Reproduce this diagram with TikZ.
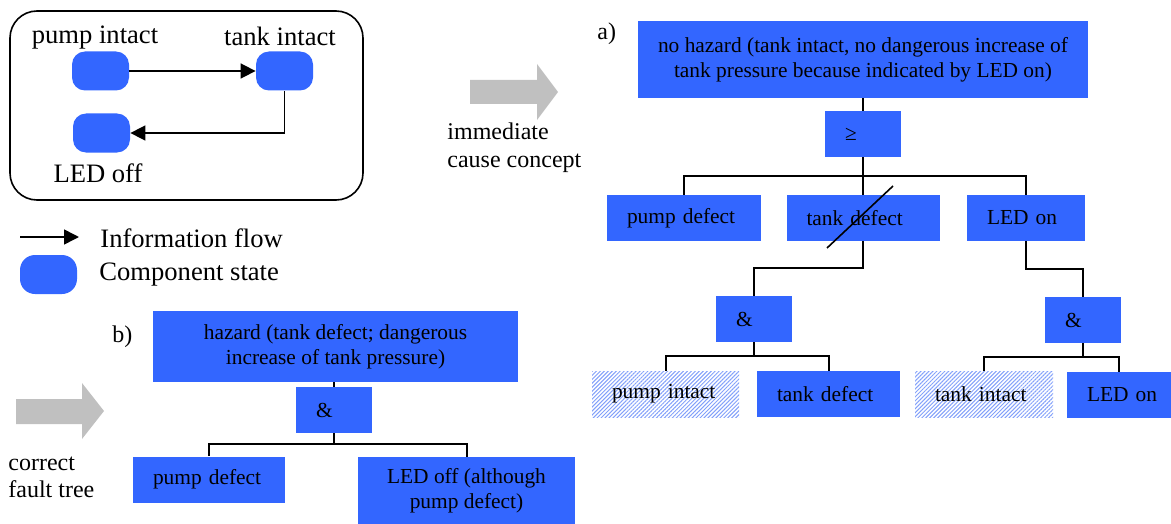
\documentclass[tikz,border=0pt]{standalone}
\usepackage{fontspec}
\setmainfont{Liberation Serif}
\usepackage{xcolor}
\usetikzlibrary{positioning}
\usetikzlibrary{arrows.meta}
\usetikzlibrary{patterns.meta}

\definecolor{ftblue}{RGB}{51,102,255}
\definecolor{hatchblue}{RGB}{130,160,250}
\definecolor{arrowgray}{RGB}{192,192,192}

\newcommand{\treefont}{\fontsize{10.7}{12.3}\selectfont}
\newcommand{\panelfont}{\fontsize{13.3}{16}\selectfont}

\begin{document}
\begin{tikzpicture}[x=0.5pt, y=-0.5pt,
  event/.style={fill=ftblue, minimum height=23pt, inner xsep=10pt, inner ysep=0pt, align=left, font=\treefont},
  bigevent/.style={fill=ftblue, inner sep=0pt, align=center, font=\treefont},
  hatched/.style={event, fill=none, pattern={Lines[angle=45,distance=1.4pt,line width=0.5pt]}, pattern color=hatchblue},
  state/.style={fill=ftblue, rounded corners=6.5pt, minimum width=28.5pt, minimum height=19.5pt, inner sep=0pt},
  flow/.style={-{Triangle[length=7.5pt,width=7.5pt]}, line width=0.8pt},
  tree/.style={line width=1pt}]

\useasboundingbox (0,0) rectangle (1171,524);

% component model
\draw[line width=0.8pt, rounded corners=13.5pt] (10,11) rectangle (363,200);

\node[state] (pump) at (100.5,71) {};
\node[state] (tank) at (284.5,71) {};
\node[state] (led) at (101.5,133) {};

\node[font=\panelfont, inner sep=0pt] (pumplabel) at (95,38) {pump intact};
\node[font=\panelfont, inner sep=0pt] (tanklabel) at (280,36) {tank intact};
\node[font=\panelfont, inner sep=0pt] (ledlabel) at (98,173) {LED off};

\draw[flow] (pump) -- (tank);
\draw[flow] (tank.south) |- (led.east);

% legend
\coordinate (legfrom) at (20,237);
\coordinate (legto) at (79,237);
\draw[flow] (legfrom) -- (legto);
\node[font=\panelfont, inner sep=0pt, anchor=west] (legflow) at (100,238) {Information flow};
\node[state, rounded corners=7.5pt] (legstate) at (48.5,274.5) {};
\node[font=\panelfont, inner sep=0pt, anchor=west] (legtext) at (99,275) {Component state};

% gray arrows
\fill[arrowgray] (470,80) --++(67,0) --++(0,-16) --++(21,28) --++(-21,28) --++(0,-16) --++(-67,0) -- cycle;
\fill[arrowgray] (16,399) --++(66,0) --++(0,-16) --++(22,28) --++(-22,28) --++(0,-15) --++(-66,0) -- cycle;

\node[font=\fontsize{12}{13.5}\selectfont, align=left, inner sep=0pt, anchor=base west] (immlabel) at (447,167) {immediate\\cause concept};
\node[font=\fontsize{12}{13.5}\selectfont, align=left, inner sep=0pt, anchor=base west] (corrlabel) at (8,497) {correct\\fault tree};

\node[font=\fontsize{12}{14}\selectfont, inner sep=0pt, anchor=base west] (alabel) at (597,40) {a)};
\node[font=\fontsize{12}{14}\selectfont, inner sep=0pt, anchor=base west] (blabel) at (112,342) {b)};

% fault tree a)
\node[bigevent, minimum width=225pt, minimum height=38.5pt] (nohaz) at (863,59.5)
{no hazard (tank intact, no dangerous increase of\\tank pressure because indicated by LED on)};
\node[event, text width=18pt] (or) at (863,134) {≥};

\node[event, text width=57pt] (pumpdef) at (684,218) {pump defect};
\node[event, text width=56.5pt] (tankdef) at (863,218) {tank defect};
\node[event, text width=39pt] (ledon) at (1026,218) {LED on};

\node[event, text width=18pt] (and1) at (754,319) {\&};
\node[event, text width=18pt] (and2) at (1083,320) {\&};

\node[hatched, text width=53.5pt] (pumpint) at (665.5,394) {pump intact};
\node[event, text width=51.5pt] (tankdef2) at (828.5,394) {tank defect};
\node[hatched, text width=49pt] (tankint) at (984,394.5) {tank intact};
\node[event, text width=32pt] (ledon2) at (1119,395) {\mbox{LED on}};

\coordinate (orbar) at (863,176);
\draw[tree] (nohaz) -- (or);
\draw[tree] (or) -- (tankdef);
\draw[tree] (pumpdef.north) |- (orbar) -| (ledon.north);

\draw[tree] (tankdef.south) -- ++(0,27) -| (and1.north);
\draw[tree] (ledon.south) -- ++(0,28) -| (and2.north);

\draw[tree] (and1.south) -- ++(0,14) coordinate (andbar1);
\draw[tree] (pumpint.north) |- (andbar1) -| (tankdef2.north);
\draw[tree] (and2.south) -- ++(0,14) coordinate (andbar2);
\draw[tree] (tankint.north) |- (andbar2) -| (ledon2.north);

% crossed out
\draw[line width=0.8pt] (tankdef.center) ++(-36,30) -- ++(66,-62);

% fault tree b)
\node[bigevent, minimum width=182.5pt, minimum height=35.5pt] (hazard) at (335.5,346.5)
{hazard (tank defect; dangerous\\increase of tank pressure)};
\node[event, text width=18pt] (and3) at (334,410) {\&};
\node[event, text width=56pt] (pumpdef3) at (209,479.5) {pump defect};
\node[bigevent, minimum width=108.5pt, minimum height=34pt] (ledoff) at (466.5,491)
{LED off (although\\pump defect)};

\draw[tree] (hazard.south -| and3) -- (and3.north);
\draw[tree] (and3.south) -- ++(0,11) coordinate (andbar3);
\draw[tree] (pumpdef3.north) |- (andbar3) -| (ledoff.north);

\end{tikzpicture}
\end{document}
